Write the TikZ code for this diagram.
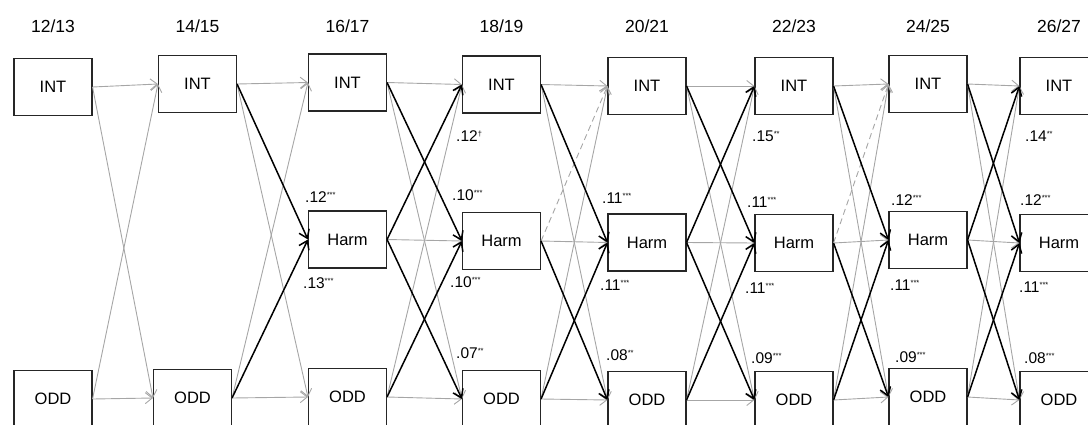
\documentclass[tikz,border=0pt]{standalone}
\usepackage{fontspec}
\setmainfont{Liberation Sans}
\usetikzlibrary{arrows.meta}
\definecolor{pathgray}{HTML}{A6A6A6}
\definecolor{boxline}{HTML}{262626}
\newcommand\sigmark[1]{\raisebox{4.6pt}{\fontsize{7.5}{7.5}\selectfont #1}}
\begin{document}
\begin{tikzpicture}[x=1pt,y=1pt,
  wave/.style={draw=boxline, line width=1.1pt, minimum width=78pt, minimum height=57pt,
               inner sep=0pt, font=\fontsize{16.5}{16.5}\selectfont},
  yr/.style={anchor=base, inner sep=0pt, font=\fontsize{17.5}{17.5}\selectfont},
  coef/.style={anchor=base west, inner sep=0pt, font=\fontsize{15.5}{15.5}\selectfont},
  nspath/.style={draw=pathgray, line width=0.9pt, -{Straight Barb[length=7pt,width=11pt]}},
  trend/.style={nspath, dash pattern=on 6pt off 4pt},
  sig/.style={draw=black, line width=1.5pt, -{Straight Barb[length=8pt,width=11pt]}}
]
\useasboundingbox (0,0) rectangle (1088,-424);
\clip (0,0) rectangle (1088,-424);

% wave labels
\node[yr] (y1) at (53,-32)    {12/13};
\node[yr] (y2) at (197.5,-32) {14/15};
\node[yr] (y3) at (347.5,-32) {16/17};
\node[yr] (y4) at (501.5,-32) {18/19};
\node[yr] (y5) at (647,-32)   {20/21};
\node[yr] (y6) at (794,-32)   {22/23};
\node[yr] (y7) at (928,-32)   {24/25};
\node[yr] (y8) at (1059,-32)  {26/27};

% internalizing problems
\node[wave] (i1) at (53,-87)     {INT};
\node[wave] (i2) at (197.5,-84)  {INT};
\node[wave] (i3) at (347.5,-82.5){INT};
\node[wave] (i4) at (501.5,-84.5){INT};
\node[wave] (i5) at (647,-86)    {INT};
\node[wave] (i6) at (794,-86)    {INT};
\node[wave] (i7) at (928,-84)    {INT};
\node[wave] (i8) at (1059,-86)   {INT};

% harm
\node[wave] (h3) at (347.5,-239.5){Harm};
\node[wave] (h4) at (501.5,-241)  {Harm};
\node[wave] (h5) at (647,-242.5)  {Harm};
\node[wave] (h6) at (794,-243)    {Harm};
\node[wave] (h7) at (928,-240)    {Harm};
\node[wave] (h8) at (1059,-243)   {Harm};

% oppositional defiance
\node[wave] (o1) at (53,-399)    {ODD};
\node[wave] (o2) at (192.5,-398) {ODD};
\node[wave] (o3) at (347.5,-397) {ODD};
\node[wave] (o4) at (501.5,-399) {ODD};
\node[wave] (o5) at (647,-400)   {ODD};
\node[wave] (o6) at (794,-400)   {ODD};
\node[wave] (o7) at (928,-397)   {ODD};
\node[wave] (o8) at (1059,-400)  {ODD};

% non-significant paths
\foreach \a/\b in {i1/i2,i1/o2,o1/i2,o1/o2,
                   i2/i3,i2/o3,o2/i3,o2/o3,
                   i3/i4,i3/o4,h3/h4,o3/i4,o3/o4,
                   i4/i5,i4/o5,h4/h5,o4/i5,o4/o5,
                   i5/i6,i5/o6,h5/h6,o5/i6,o5/o6,
                   i6/i7,i6/o7,h6/h7,o6/i7,o6/o7,
                   i7/i8,i7/o8,h7/h8,o7/i8,o7/o8}
  \draw[nspath] (\a.east) -- (\b.west);

% marginal trends
\draw[trend] (h4.east) -- (i5.west);
\draw[trend] (h6.east) -- (i7.west);

% significant paths
\foreach \a/\b in {i2/h3,o2/h3,
                   i3/h4,h3/i4,h3/o4,o3/h4,
                   i4/h5,h4/o5,o4/h5,
                   i5/h6,h5/i6,h5/o6,o5/h6,
                   i6/h7,h6/o7,o6/h7,
                   i7/h8,h7/i8,h7/o8,o7/h8}
  \draw[sig] (\a.east) -- (\b.west);

% coefficients
\node[coef] (c1)  at (305,-202.5)  {.12\sigmark{***}};
\node[coef] (c2)  at (303,-288.5)  {.13\sigmark{***}};
\node[coef] (c3)  at (452,-200.5)  {.10\sigmark{***}};
\node[coef] (c4)  at (450,-287.5)  {.10\sigmark{***}};
\node[coef] (c5)  at (456,-141.5)  {.12\sigmark{†}};
\node[coef] (c6)  at (456,-358.5)  {.07\sigmark{**}};
\node[coef] (c7)  at (602,-203.5)  {.11\sigmark{***}};
\node[coef] (c8)  at (600,-290.5)  {.11\sigmark{***}};
\node[coef] (c9)  at (606,-360.5)  {.08\sigmark{**}};
\node[coef] (c10) at (752,-141.5)  {.15\sigmark{**}};
\node[coef] (c11) at (747,-207.5)  {.11\sigmark{***}};
\node[coef] (c12) at (745,-293.5)  {.11\sigmark{***}};
\node[coef] (c13) at (751,-363.5)  {.09\sigmark{***}};
\node[coef] (c14) at (891,-205.5)  {.12\sigmark{***}};
\node[coef] (c15) at (890,-290.5)  {.11\sigmark{***}};
\node[coef] (c16) at (895,-362.5)  {.09\sigmark{***}};
\node[coef] (c17) at (1025,-141.5) {.14\sigmark{**}};
\node[coef] (c18) at (1020,-205.5) {.12\sigmark{***}};
\node[coef] (c19) at (1019,-292.5) {.11\sigmark{***}};
\node[coef] (c20) at (1024,-363.5) {.08\sigmark{***}};
\end{tikzpicture}
\end{document}
